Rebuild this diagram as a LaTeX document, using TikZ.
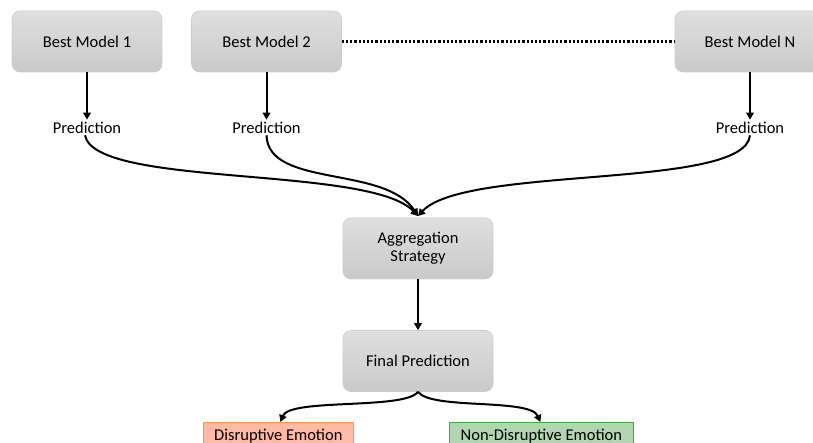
\documentclass[tikz,border=0pt]{standalone}
\usepackage{fontspec}
\setmainfont{Carlito}
\usetikzlibrary{arrows.meta}
\begin{document}
\begin{tikzpicture}[x=1pt,y=-1pt,
  modelbox/.style={draw=gray!40, line width=0.6pt, rounded corners=8pt,
    top color=gray!25, bottom color=gray!42, minimum width=150pt,
    minimum height=61pt, align=center, font=\fontsize{16.5}{19}\selectfont},
  labeltext/.style={font=\fontsize{16.5}{19}\selectfont},
  outbox/.style={line width=0.8pt, minimum width=150pt, minimum height=30pt,
    anchor=north west},
  outtext/.style={font=\fontsize{16.5}{19}\selectfont, anchor=base},
  flow/.style={line width=2pt, -{Triangle[length=7pt,width=7.5pt]}}]
\useasboundingbox (0,0) rectangle (813,443);
\begin{scope}
\clip (0,0) rectangle (813,443);

% model boxes
\node[modelbox] (m1) at (87,41.5) {Best Model 1};
\node[modelbox] (m2) at (266.5,41.5) {Best Model 2};
\node[modelbox] (mn) at (750,41.5) {Best Model N};
\draw[line width=2.2pt, dotted] (m2.east) -- (mn.west);

% predictions
\node[labeltext] (p1) at (87,128) {Prediction};
\node[labeltext] (p2) at (266.5,128) {Prediction};
\node[labeltext] (pn) at (750,128) {Prediction};
\draw[flow] (m1.south) -- ([yshift=-1pt]p1.north);
\draw[flow] (m2.south) -- ([yshift=-1pt]p2.north);
\draw[flow] (mn.south) -- ([yshift=-1pt]pn.north);

% aggregation
\node[modelbox] (agg) at (418,248.5) {Aggregation\\[-1pt]Strategy};
\coordinate (in) at (418,216);
\draw[flow] ([xshift=-2pt,yshift=2pt]p1.south) .. controls (95,188) and (370,165) .. (in);
\draw[flow] ([yshift=2pt]p2.south) .. controls (268,188) and (385,165) .. (in);
\draw[flow] ([yshift=2pt]pn.south) .. controls (745,190) and (465,165) .. (in);

% final prediction
\node[modelbox] (fin) at (418,361) {Final Prediction};
\draw[flow] (agg.south) -- (fin.north);

% outcome boxes
\node[outbox, draw=orange!80!red!70, fill=orange!45!red!35!white] (dis) at (203,422) {};
\node[outbox, draw=green!55!black!75, fill=green!45!black!30!white, minimum width=184pt] (non) at (449,422) {};
\node[outtext] at (dis.center |- 0,440.5) {Disruptive Emotion};
\node[outtext] at (non.center |- 0,440.5) {Non-Disruptive Emotion};
\draw[flow] (fin.south) .. controls (405,410) and (290,398) .. ([xshift=2pt]dis.north);
\draw[flow] (fin.south) .. controls (431,410) and (530,398) .. ([xshift=-1pt]non.north);
\end{scope}
\end{tikzpicture}
\end{document}
